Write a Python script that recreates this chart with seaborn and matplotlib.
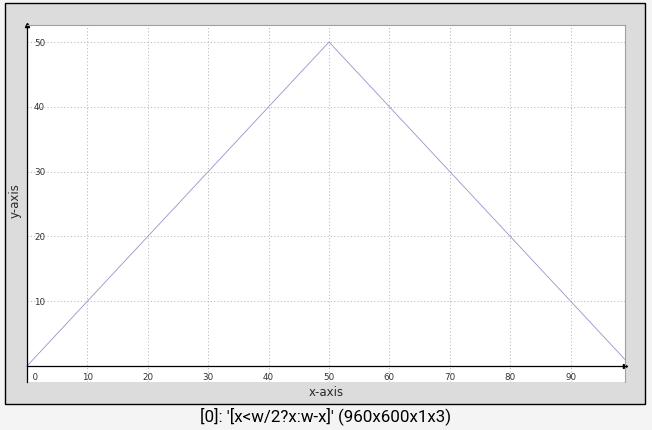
import matplotlib
matplotlib.use("Agg")
import matplotlib.pyplot as plt
import seaborn as sns
import pandas as pd
from matplotlib.patches import Rectangle

# corner points of the series
x_vals = [0, 50, 99]
y_vals = [0, 50, 1]
x_ticks = [0, 10, 20, 30, 40, 50, 60, 70, 80, 90]
y_ticks = [10, 20, 30, 40, 50]
title = "[0]: '[x<w/2?x:w-x]' (960x600x1x3)"

df = pd.DataFrame({"x": x_vals, "y": y_vals})

sns.set_theme(style="white")
plt.rcParams["font.family"] = ["DejaVu Sans"]

W, H = 652, 430
fig = plt.figure(figsize=(W / 100, H / 100), dpi=100)
fig.patch.set_facecolor("#f4f4f4")

# grey frame box
fig.patches.append(Rectangle((5 / W, 1 - 404 / H), 640 / W, 401 / H,
                             transform=fig.transFigure, facecolor="#dcdcdc",
                             edgecolor="black", linewidth=1, zorder=-1))

ax = fig.add_axes([27 / W, 1 - 382 / H, 598 / W, 357 / H])
ax.set_facecolor("white")

sns.lineplot(data=df, x="x", y="y", ax=ax, color="#9494cc", linewidth=0.6)

ax.set_xlim(0, 99)
ax.set_ylim(-16 / 6.48, 50 + 17 / 6.48)
ax.set_xticks(x_ticks)
ax.set_yticks(y_ticks)
ax.set_xticklabels(["  0"] + [str(v) for v in x_ticks[1:]])
ax.set_yticklabels([str(v) for v in y_ticks])

ax.grid(True, linestyle=(0, (1.1, 2.1)), color="#bdbdbd", linewidth=0.75)

ax.spines["bottom"].set_position(("data", 0))
for s in ["bottom", "left"]:
    ax.spines[s].set_color("black")
    ax.spines[s].set_linewidth(0.9)
for s in ["top", "right"]:
    ax.spines[s].set_color("#a0a0a0")
    ax.spines[s].set_linewidth(0.8)

ax.tick_params(axis="both", direction="inout", length=4, width=0.7,
               color="black", labelsize=6.3, labelcolor="#333333")
ax.tick_params(axis="x", pad=3)
ax.tick_params(axis="y", pad=-7)
for lab in ax.get_yticklabels():
    lab.set_horizontalalignment("left")
ax.get_xticklabels()[0].set_horizontalalignment("left")

# arrow heads on the axes
ax.plot(1, 0, marker=">", color="black", markersize=3,
        transform=ax.get_yaxis_transform(), clip_on=False)
ax.plot(0, 1, marker="^", color="black", markersize=3,
        transform=ax.get_xaxis_transform(), clip_on=False)

ax.set_xlabel("x-axis", fontsize=8.5, color="#2a2a2a")
ax.set_ylabel("y-axis", fontsize=8.5, color="#2a2a2a")
ax.xaxis.set_label_coords(0.5, (382 - 392) / 357)
ax.yaxis.set_label_coords((15 - 27) / 598, (382 - 201) / 357)
ax.xaxis.label.set_verticalalignment("center")
ax.yaxis.label.set_verticalalignment("center")

fig.text(0.5, 1 - 416 / H, title, ha="center", va="center",
         fontsize=12.2, family="Roboto", color="black")

fig.savefig("out.png", dpi=100, facecolor=fig.get_facecolor())
